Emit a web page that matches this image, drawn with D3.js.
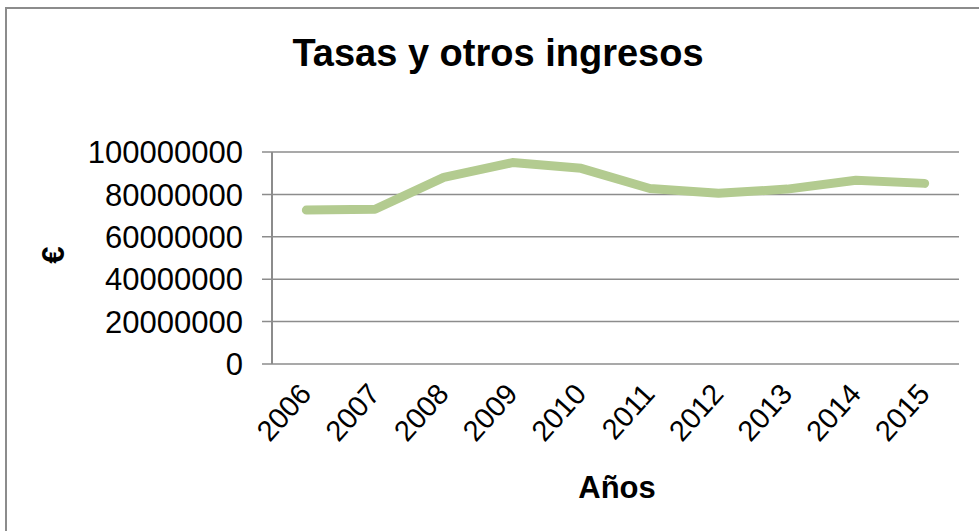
<!DOCTYPE html>
<html>
<head>
<meta charset="utf-8">
<script src="https://cdn.jsdelivr.net/npm/d3@7"></script>
<style>
  body { margin: 0; background: #fff; }
  text { font-family: "Liberation Sans", Arial, sans-serif; }
</style>
</head>
<body>
<svg id="chart" width="979" height="531"></svg>
<script>
var width = 979,
    height = 531;

// Data
const years = ["2006", "2007", "2008", "2009", "2010", "2011", "2012", "2013", "2014", "2015"];
const ingresos = [72600000, 73000000, 88000000, 95000000, 92300000, 82800000, 80500000, 82500000, 86700000, 85200000];
const yTicks = [0, 20000000, 40000000, 60000000, 80000000, 100000000];

const margin = { left: 272, right: 979 - 959, top: 152, bottom: 531 - 364 };

var svg = d3.select("#chart");

// chart border (runs off the right and bottom)
svg.append("rect")
    .attr("x", 6)
    .attr("y", 8)
    .attr("width", 1000)
    .attr("height", 600)
    .attr("fill", "none")
    .attr("stroke", "#8c8c8c")
    .attr("stroke-width", 2);

var x = d3.scaleBand()
    .domain(years)
    .range([margin.left, width - margin.right]);

var y = d3.scaleLinear()
    .domain([0, 100000000])
    .range([height - margin.bottom, margin.top]);

// Gridlines (with the small tick stubs on the left)
svg.append("g")
    .selectAll("line")
    .data(yTicks)
    .join("line")
    .attr("x1", margin.left - 10)
    .attr("x2", width - margin.right)
    .attr("y1", function (d) { return y(d); })
    .attr("y2", function (d) { return y(d); })
    .attr("stroke", "#8c8c8c")
    .attr("stroke-width", 1.5);

// Y axis line
svg.append("line")
    .attr("x1", margin.left)
    .attr("x2", margin.left)
    .attr("y1", margin.top)
    .attr("y2", height - margin.bottom)
    .attr("stroke", "#8c8c8c")
    .attr("stroke-width", 2);

// Y tick labels
svg.append("g")
    .selectAll("text")
    .data(yTicks)
    .join("text")
    .attr("x", 243)
    .attr("y", function (d) { return y(d); })
    .attr("dy", "0.36em")
    .attr("text-anchor", "end")
    .attr("font-size", 31)
    .attr("fill", "#000")
    .text(function (d) { return d3.format("d")(d); });

// X tick labels, rotated
svg.append("g")
    .selectAll("text")
    .data(years)
    .join("text")
    .attr("transform", function (d) {
        return "translate(" + (x(d) + x.bandwidth() / 2 - 9) + "," + 381 + ") rotate(-48)";
    })
    .attr("dy", "0.72em")
    .attr("text-anchor", "end")
    .attr("font-size", 29)
    .attr("fill", "#000")
    .text(function (d) { return d; });

// Line
var line = d3.line()
    .x(function (d, i) { return x(years[i]) + x.bandwidth() / 2; })
    .y(function (d) { return y(d); });

svg.append("path")
    .datum(ingresos)
    .attr("d", line)
    .attr("fill", "none")
    .attr("stroke", "#b3cb90")
    .attr("stroke-width", 9)
    .attr("stroke-linejoin", "round")
    .attr("stroke-linecap", "round");

// Title
svg.append("text")
    .attr("x", 498)
    .attr("y", 66)
    .attr("text-anchor", "middle")
    .attr("font-size", 38)
    .attr("font-weight", "bold")
    .text("Tasas y otros ingresos");

// Axis titles
svg.append("text")
    .attr("x", 617)
    .attr("y", 498)
    .attr("text-anchor", "middle")
    .attr("font-size", 31)
    .attr("font-weight", "bold")
    .text("Años");

svg.append("text")
    .attr("transform", "translate(64,255) rotate(-90)")
    .attr("text-anchor", "middle")
    .attr("font-size", 31)
    .attr("font-weight", "bold")
    .text("€");
</script>
</body>
</html>
